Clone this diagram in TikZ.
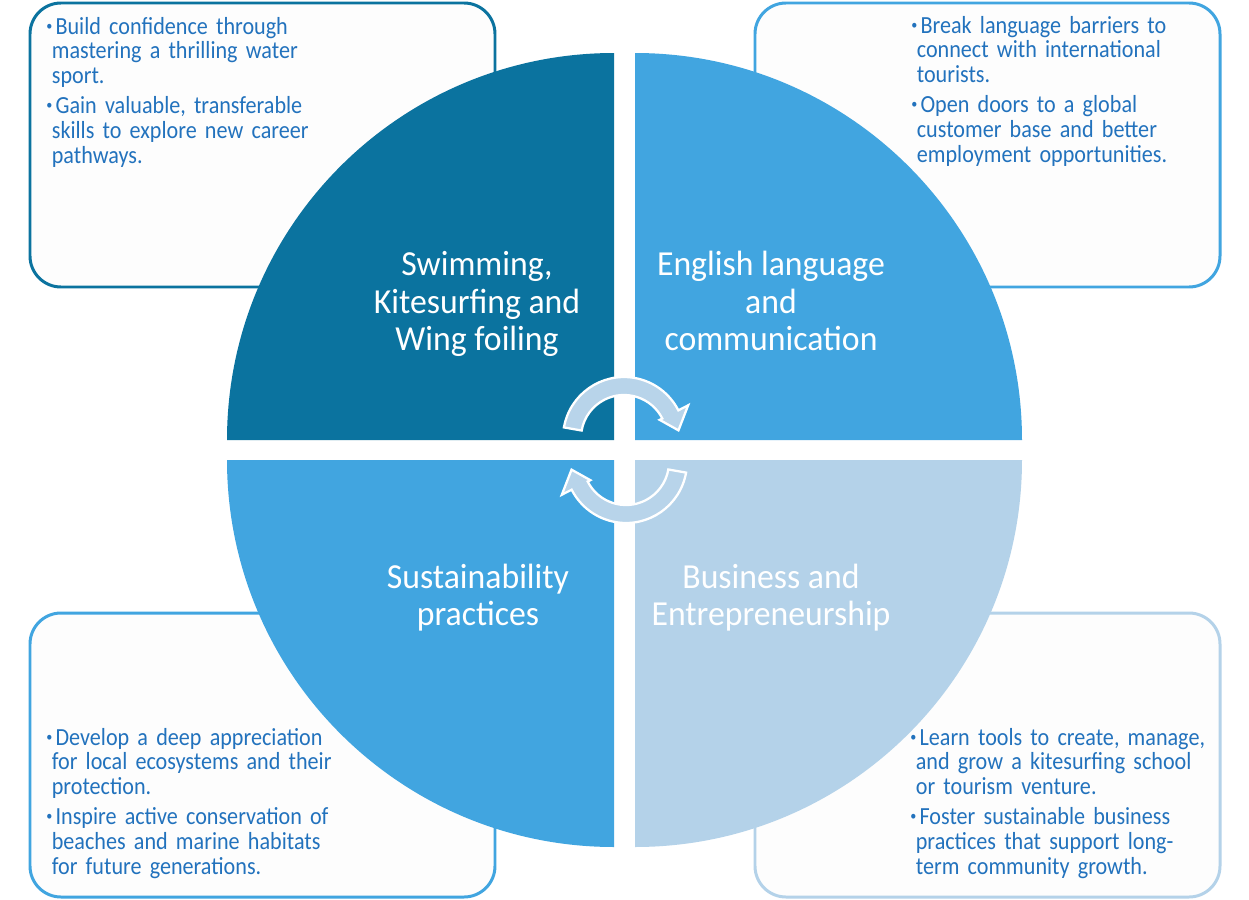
\documentclass[tikz,border=0pt]{standalone}
\usepackage{fontspec}
\setmainfont{Carlito}[FakeStretch=0.9]
\newfontfamily\titlefont{Carlito}[FakeStretch=0.96]

\definecolor{quadDark}{RGB}{11,115,159}
\definecolor{quadMid}{RGB}{65,165,224}
\definecolor{quadPale}{RGB}{180,210,233}
\definecolor{itemBlue}{RGB}{34,114,189}
\definecolor{boxFill}{RGB}{253,253,253}
\definecolor{arrowPale}{RGB}{184,212,234}

\newcommand{\bul}{\raisebox{0.3ex}{\scalebox{0.55}{\textbullet}}\hspace{1.8pt}}
\newcommand{\brk}{\hfil\break}
\newcommand{\bitem}[1]{\hangindent=0.11cm\hangafter=1\relax\bul#1\par\vspace{2.6pt}}

\begin{document}
\begin{tikzpicture}[x=0.02cm,y=-0.02cm,
  infobox/.style={line width=1.7pt,rounded corners=0.62cm,fill=boxFill},
  quadlabel/.style={text=white,align=center,inner sep=0pt,
                    font={\titlefont\fontsize{20}{21.2}\selectfont}},
  itemtext/.style={text=itemBlue,text width=6.3cm,align=left,inner sep=0pt,
                   anchor=base west,font={\fontsize{14}{14.2}\selectfont\hyphenpenalty=10000}},
  cyclearrow/.style={fill=arrowPale,draw=white,line width=1.3pt}]

\fill[white] (0,0) rectangle (1249,900);
\useasboundingbox (0,0) rectangle (1249,900);

% ---- outer boxes ----
\foreach \bx/\by/\bc in {30/3/quadDark,755/3/quadMid,30/613/quadMid,755/613/quadPale}
  \draw[infobox,draw=\bc] (\bx,\by) rectangle ++(465,284);

% ---- quadrants ----
\fill[quadDark] (614,440) -- (227,440) arc[start angle=180,end angle=270,radius=387] -- cycle;
\fill[quadMid]  (635,440) -- (635,53)  arc[start angle=270,end angle=360,radius=387] -- cycle;
\fill[quadPale] (635,460) -- (1022,460) arc[start angle=0,end angle=90,radius=387] -- cycle;
\fill[quadMid]  (614,460) -- (614,847) arc[start angle=90,end angle=180,radius=387] -- cycle;

% ---- quadrant titles ----
\node[quadlabel] (swim) at (477,304) {Swimming,\\Kitesurfing and\\Wing foiling};
\node[quadlabel] (english) at (771,301) {English language\\and\\communication};
\node[quadlabel] (sustain) at (478,598) {Sustainability\\practices};
\node[quadlabel] (business) at (771,598) {Business and\\Entrepreneurship};

% ---- cycle arrows ----
\begin{scope}[shift={(624,438)}]
  \draw[cyclearrow] (190:61) arc[start angle=190,end angle=333,radius=61]
    -- (333:72) -- (352:55) -- (333:40) -- (333:43)
    arc[start angle=333,end angle=190,radius=43] -- cycle;
\end{scope}
\begin{scope}[shift={(626,462)}]
  \draw[cyclearrow] (10:61) arc[start angle=10,end angle=153,radius=61]
    -- (153:72) -- (172:55) -- (153:40) -- (153:43)
    arc[start angle=153,end angle=10,radius=43] -- cycle;
\end{scope}

% ---- bullet texts ----
\node[itemtext] (swimText) at (46,34)
  {\bitem{Build confidence through\brk mastering a thrilling water\brk sport.}%
   \bitem{Gain valuable, transferable\brk skills to explore new career\brk pathways.}};
\node[itemtext] (englishText) at (911,33)
  {\bitem{Break language barriers to\brk connect with international\brk tourists.}%
   \bitem{Open doors to a global\brk customer base and better\brk employment opportunities.}};
\node[itemtext] (sustainText) at (46,745)
  {\bitem{Develop a deep appreciation\brk for local ecosystems and their\brk protection.}%
   \bitem{Inspire active conservation of\brk beaches and marine habitats\brk for future generations.}};
\node[itemtext] (businessText) at (910,745)
  {\bitem{Learn tools to create, manage,\brk and grow a kitesurfing school\brk or tourism venture.}%
   \bitem{Foster sustainable business\brk practices that support long-\brk term community growth.}};
\end{tikzpicture}
\end{document}
